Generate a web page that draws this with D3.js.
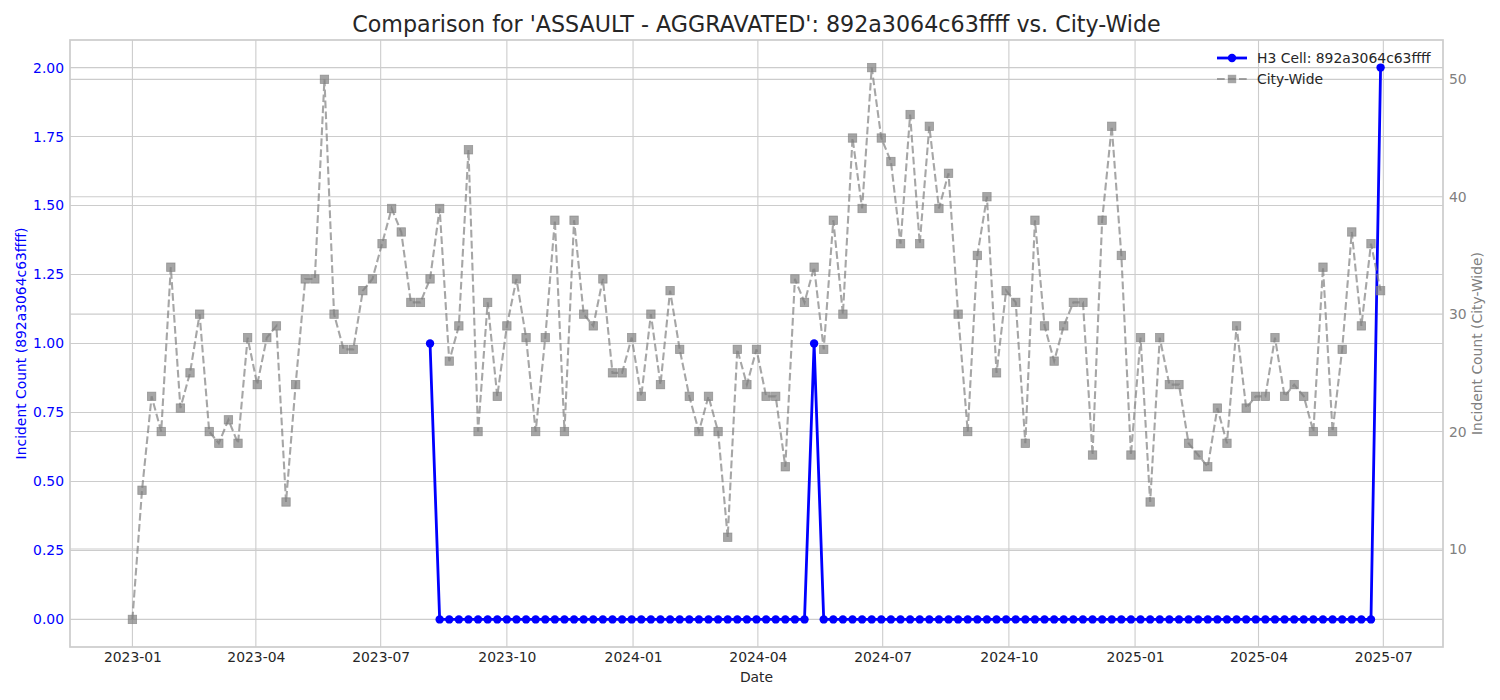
<!DOCTYPE html>
<html>
<head>
<meta charset="utf-8">
<script src="https://cdn.jsdelivr.net/npm/d3@7"></script>
<style>
  html, body { margin: 0; padding: 0; background: #ffffff; }
  svg { display: block; font-family: "DejaVu Sans", sans-serif; }
</style>
</head>
<body>
<svg id="chart" width="1500" height="700"></svg>
<script>
// ---------------- DATA ----------------
const titleText = "Comparison for 'ASSAULT - AGGRAVATED': 892a3064c63ffff vs. City-Wide";
const weekStart = "2023-01-01";   // first weekly period (Sunday)
const weekEnd = "2025-06-29";     // last weekly period (Sunday)

// City-wide weekly counts (131 weeks)
const cityCounts = [
  4, 15, 23, 20, 34, 22, 25, 30, 20, 19,
  21, 19, 28, 24, 28, 29, 14, 24, 33, 33,
  50, 30, 27, 27, 32, 33, 36, 39, 37, 31,
  31, 33, 39, 26, 29, 44, 20, 31, 23, 29,
  33, 28, 20, 28, 38, 20, 38, 30, 29, 33,
  25, 25, 28, 23, 30, 24, 32, 27, 23, 20,
  23, 20, 11, 27, 24, 27, 23, 23, 17, 33,
  31, 34, 27, 38, 30, 45, 39, 51, 45, 43,
  36, 47, 36, 46, 39, 42, 30, 20, 35, 40,
  25, 32, 31, 19, 38, 29, 26, 29, 31, 31,
  18, 38, 46, 35, 18, 28, 14, 28, 24, 24,
  19, 18, 17, 22, 19, 29, 22, 23, 23, 28,
  23, 24, 23, 20, 34, 20, 27, 37, 29, 36,
  32
];

// H3 cell weekly counts, starting at week index 31 (2023-08-06)
const h3StartIndex = 31;
const h3Counts = [
  1, 0, 0, 0, 0, 0, 0, 0, 0, 0,
  0, 0, 0, 0, 0, 0, 0, 0, 0, 0,
  0, 0, 0, 0, 0, 0, 0, 0, 0, 0,
  0, 0, 0, 0, 0, 0, 0, 0, 0, 0,
  1, 0, 0, 0, 0, 0, 0, 0, 0, 0,
  0, 0, 0, 0, 0, 0, 0, 0, 0, 0,
  0, 0, 0, 0, 0, 0, 0, 0, 0, 0,
  0, 0, 0, 0, 0, 0, 0, 0, 0, 0,
  0, 0, 0, 0, 0, 0, 0, 0, 0, 0,
  0, 0, 0, 0, 0, 0, 0, 0, 0, 2
];

const xTickLabels = ["2023-01","2023-04","2023-07","2023-10","2024-01","2024-04","2024-07","2024-10","2025-01","2025-04","2025-07"];
const leftTicks = [0, 0.25, 0.5, 0.75, 1.0, 1.25, 1.5, 1.75, 2.0];
const rightTicks = [10, 20, 30, 40, 50];
const seriesNames = ["H3 Cell: 892a3064c63ffff", "City-Wide"];

// ---------------- BUILD ----------------
const parse = d3.utcParse("%Y-%m-%d");
const weeks = d3.utcSunday.range(parse(weekStart), d3.utcDay.offset(parse(weekEnd), 1));
const cityData = weeks.map((d, i) => ({date: d, value: cityCounts[i]}));
const h3Data = h3Counts.map((v, i) => ({date: weeks[h3StartIndex + i], value: v}));

const svg = d3.select("#chart");
const L = 70, R = 1443, T = 40, B = 647;

const pad = (weeks[weeks.length - 1] - weeks[0]) * 0.05;
const x = d3.scaleUtc()
  .domain([new Date(+weeks[0] - pad), new Date(+weeks[weeks.length - 1] + pad)])
  .range([L, R]);

const hMax = d3.max(h3Counts), hMin = d3.min(h3Counts);
const hPad = (hMax - hMin) * 0.05;
const yL = d3.scaleLinear().domain([hMin - hPad, hMax + hPad]).range([B, T]);

const cMax = d3.max(cityCounts), cMin = d3.min(cityCounts);
const cPad = (cMax - cMin) * 0.05;
const yR = d3.scaleLinear().domain([cMin - cPad, cMax + cPad]).range([B, T]);

const xTickDates = xTickLabels.map(s => d3.utcParse("%Y-%m")(s));

const gridColor = "#cccccc";
const textColor = "#262626";

// grid: vertical
svg.append("g").attr("class", "xgrid")
  .selectAll("line").data(xTickDates).join("line")
  .attr("x1", d => x(d)).attr("x2", d => x(d))
  .attr("y1", T).attr("y2", B)
  .attr("stroke", gridColor).attr("stroke-width", 1.1);

// grid: left horizontal
svg.append("g").attr("class", "lgrid")
  .selectAll("line").data(leftTicks).join("line")
  .attr("x1", L).attr("x2", R)
  .attr("y1", d => yL(d)).attr("y2", d => yL(d))
  .attr("stroke", gridColor).attr("stroke-width", 1.1);

// grid: right horizontal
svg.append("g").attr("class", "rgrid")
  .selectAll("line").data(rightTicks).join("line")
  .attr("x1", L).attr("x2", R)
  .attr("y1", d => yR(d)).attr("y2", d => yR(d))
  .attr("stroke", gridColor).attr("stroke-width", 1.1);

// axes (via d3 axis, with domain lines hidden; frame drawn separately)
const xAxis = svg.append("g").attr("transform", `translate(0,${B})`)
  .call(d3.axisBottom(x).tickValues(xTickDates).tickFormat(d3.utcFormat("%Y-%m")).tickSize(0).tickPadding(5));
xAxis.select(".domain").remove();
xAxis.selectAll("text").attr("fill", textColor).attr("font-size", "13.9px").attr("font-family", "DejaVu Sans");

const lAxis = svg.append("g").attr("transform", `translate(${L},0)`)
  .call(d3.axisLeft(yL).tickValues(leftTicks).tickFormat(d3.format(".2f")).tickSize(0).tickPadding(6));
lAxis.select(".domain").remove();
lAxis.selectAll("text").attr("fill", "#0000ff").attr("font-size", "13.9px").attr("font-family", "DejaVu Sans");

const rAxis = svg.append("g").attr("transform", `translate(${R},0)`)
  .call(d3.axisRight(yR).tickValues(rightTicks).tickFormat(d3.format("d")).tickSize(0).tickPadding(6));
rAxis.select(".domain").remove();
rAxis.selectAll("text").attr("fill", "#808080").attr("font-size", "13.9px").attr("font-family", "DejaVu Sans");

// H3 series
const lineH = d3.line().x(d => x(d.date)).y(d => yL(d.value));
svg.append("path").datum(h3Data)
  .attr("d", lineH).attr("fill", "none")
  .attr("stroke", "#0000ff").attr("stroke-width", 2.8).attr("stroke-linejoin", "round");
svg.append("g").selectAll("circle").data(h3Data).join("circle")
  .attr("cx", d => x(d.date)).attr("cy", d => yL(d.value)).attr("r", 4.2)
  .attr("fill", "#0000ff");

// City-wide series
const lineC = d3.line().x(d => x(d.date)).y(d => yR(d.value));
svg.append("path").datum(cityData)
  .attr("d", lineC).attr("fill", "none")
  .attr("stroke", "#808080").attr("stroke-opacity", 0.7)
  .attr("stroke-width", 2.1).attr("stroke-dasharray", "7.7,3.3");
svg.append("g").selectAll("rect").data(cityData).join("rect")
  .attr("x", d => x(d.date) - 4.2).attr("y", d => yR(d.value) - 4.2)
  .attr("width", 8.4).attr("height", 8.4)
  .attr("fill", "#808080").attr("fill-opacity", 0.7)
  .attr("stroke", "#808080").attr("stroke-opacity", 0.7).attr("stroke-width", 0.8);

// frame
svg.append("rect").attr("x", L).attr("y", T).attr("width", R - L).attr("height", B - T)
  .attr("fill", "none").attr("stroke", gridColor).attr("stroke-width", 1.7);

// title & labels
svg.append("text").attr("x", (L + R) / 2).attr("y", 32).attr("text-anchor", "middle")
  .attr("font-size", "22.2px").attr("fill", textColor).text(titleText);
svg.append("text").attr("x", (L + R) / 2).attr("y", 682).attr("text-anchor", "middle")
  .attr("font-size", "13.9px").attr("fill", textColor).text("Date");
svg.append("text").attr("transform", `translate(26,${(T + B) / 2}) rotate(-90)`)
  .attr("text-anchor", "middle").attr("font-size", "13.9px").attr("fill", "#0000ff")
  .text("Incident Count (892a3064c63ffff)");
svg.append("text").attr("transform", `translate(1482,${(T + B) / 2}) rotate(-90)`)
  .attr("text-anchor", "middle").attr("font-size", "13.9px").attr("fill", "#808080")
  .text("Incident Count (City-Wide)");

// legend
const legend = svg.append("g").attr("transform", "translate(1217,58)");
legend.append("line").attr("x1", 0).attr("x2", 30).attr("y1", 0).attr("y2", 0)
  .attr("stroke", "#0000ff").attr("stroke-width", 2.8);
legend.append("circle").attr("cx", 15).attr("cy", 0).attr("r", 4.2).attr("fill", "#0000ff");
legend.append("text").attr("x", 40).attr("y", 0).attr("dy", "0.35em")
  .attr("font-size", "13.9px").attr("fill", textColor).text(seriesNames[0]);
legend.append("line").attr("x1", 0).attr("x2", 30).attr("y1", 21).attr("y2", 21)
  .attr("stroke", "#808080").attr("stroke-opacity", 0.7).attr("stroke-width", 2.1)
  .attr("stroke-dasharray", "7.7,3.3");
legend.append("rect").attr("x", 15 - 4.2).attr("y", 21 - 4.2).attr("width", 8.4).attr("height", 8.4)
  .attr("fill", "#808080").attr("fill-opacity", 0.7);
legend.append("text").attr("x", 40).attr("y", 21).attr("dy", "0.35em")
  .attr("font-size", "13.9px").attr("fill", textColor).text(seriesNames[1]);
</script>
</body>
</html>
